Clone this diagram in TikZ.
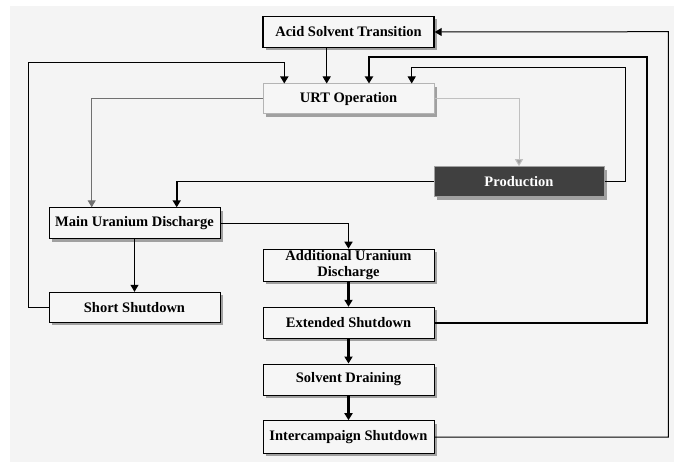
\documentclass[tikz,border=0pt]{standalone}
\usepackage{fontspec}
\setmainfont{Liberation Serif}
\usetikzlibrary{arrows.meta,shadows}
\definecolor{bg}{HTML}{F4F4F4}
\definecolor{boxfill}{HTML}{F6F6F6}
\definecolor{shadowc}{HTML}{A0A0A0}
\definecolor{darkfill}{HTML}{404040}
\definecolor{urtborder}{HTML}{B4B4B4}
\definecolor{midgray}{HTML}{707070}
\definecolor{lightline}{HTML}{C0C0C0}
\begin{document}
\begin{tikzpicture}[x=1pt,y=-1pt,
  stbox/.style={draw=black, line width=1pt, fill=boxfill, minimum width=171pt, minimum height=31pt,
    inner sep=0pt, align=center, font=\fontsize{14.5}{16.5}\selectfont\bfseries,
    drop shadow={shadow xshift=3pt, shadow yshift=-3pt, fill=shadowc, opacity=1}},
  conn/.style={line width=1pt, -{Triangle[width=8pt,length=7pt]}},
  thinline/.style={conn, line width=1pt},
  medline/.style={conn, line width=1.6pt},
  thickline/.style={conn, line width=2.3pt},
]
\useasboundingbox (0,0) rectangle (674,465);
\fill[bg] (10,6) rectangle (674,462);

\node[stbox, line width=1.4pt] (acid) at (348.5,32) {Acid Solvent Transition};
\node[stbox, draw=urtborder, minimum height=30pt] (urt) at (348.5,99) {URT Operation};
\node[stbox, draw=shadowc, fill=darkfill, text=white, minimum width=170pt, minimum height=30pt] (prod) at (519,181.7) {Production};
\node[stbox] (main) at (134.5,223.3) {Main Uranium Discharge};
\node[stbox, minimum height=32pt] (add) at (348.5,265.2) {Additional Uranium\\Discharge};
\node[stbox, minimum height=30pt] (short) at (134.5,307.3) {Short Shutdown};
\node[stbox] (ext) at (348.5,322.8) {Extended Shutdown};
\node[stbox] (solv) at (348.5,379.5) {Solvent Draining};
\node[stbox, minimum height=32.6pt] (inter) at (348.5,437) {Intercampaign Shutdown};

% corner coordinates
\coordinate (c1) at (28.3,62.7);
\coordinate (c1b) at (284.3,62.7);
\coordinate (c2) at (646.7,57.3);
\coordinate (c2b) at (369,57.3);
\coordinate (c3) at (625.7,67.3);
\coordinate (c3b) at (411.7,67.3);
\coordinate (c4) at (668.3,31.7);
\coordinate (c5) at (91.7,99);
\coordinate (c6) at (176.7,181.7);
\coordinate (c7) at (326.7,0);

% connectors
\draw[thinline] (acid.south -| c7) -- (urt.north -| c7);
\draw[medline] (short.west) -| (c1) -- (c1b) -- (c1b |- urt.north);
\draw[thickline] (ext.east) -| (c2) -- (c2b) -- (c2b |- urt.north);
\draw[thinline] (prod.east) -| (c3) -- (c3b) -- (c3b |- urt.north);
\draw[thinline] (inter.east) -| (c4) -- (acid.east);
\draw[thinline, draw=lightline, -{Triangle[width=8pt,length=7pt,fill=shadowc]}] (urt.east) -| (prod.north);
\draw[thinline, draw=midgray] (urt.west) -- (c5) -- (c5 |- main.north);
\draw[medline] (prod.west) -- (c6) -- (c6 |- main.north);
\draw[medline] (main.east) -| (add.north);
\draw[thinline] (main.south) -- (short.north);
\draw[thickline] (add.south) -- (ext.north);
\draw[thickline] (ext.south) -- (solv.north);
\draw[thickline] (solv.south) -- (inter.north);
\end{tikzpicture}
\end{document}
